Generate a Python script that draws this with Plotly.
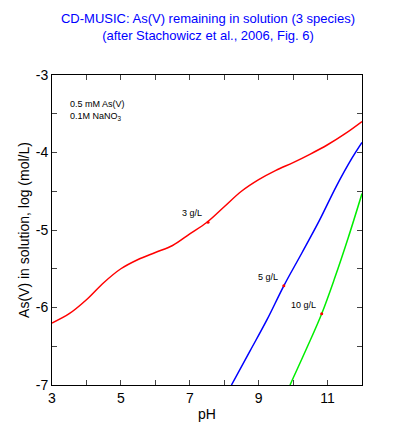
import plotly.graph_objects as go

red_ph = [3.0, 3.5, 4.0, 4.5, 5.0, 5.5, 6.0, 6.5, 7.0, 7.5, 8.0, 8.5, 9.0, 9.5, 10.0, 10.5, 11.0, 11.5, 12.0]
red_y = [-6.20, -6.08, -5.90, -5.68, -5.50, -5.38, -5.29, -5.20, -5.05, -4.90, -4.70, -4.50, -4.35, -4.23, -4.13, -4.02, -3.90, -3.76, -3.60]
blue_ph = [8.21, 8.75, 9.25, 9.73, 10.25, 10.76, 11.25, 11.7, 12.0]
blue_y = [-7.00, -6.56, -6.15, -5.72, -5.30, -4.88, -4.44, -4.08, -3.87]
green_ph = [9.91, 10.4, 10.83, 11.2, 11.6, 12.0]
green_y = [-7.00, -6.52, -6.08, -5.63, -5.10, -4.53]
mark_ph = [7.53, 9.73, 10.83]
mark_y = [-4.90, -5.72, -6.08]
mark_labels = ["3 g/L", "5 g/L", "10 g/L"]

fig = go.Figure()
fig.add_trace(go.Scatter(x=red_ph, y=red_y, mode="lines", line=dict(color="#ff0000", width=1.5, shape="spline")))
fig.add_trace(go.Scatter(x=blue_ph, y=blue_y, mode="lines", line=dict(color="#0000ff", width=1.5, shape="spline")))
fig.add_trace(go.Scatter(x=green_ph, y=green_y, mode="lines", line=dict(color="#00ee00", width=1.5, shape="spline")))
fig.add_trace(go.Scatter(x=mark_ph, y=mark_y, mode="markers", marker=dict(color="#ff0000", size=3)))
for x, y, t in zip(mark_ph, mark_y, mark_labels):
    fig.add_annotation(x=x, y=y, text=t, showarrow=False, xanchor="right", yanchor="bottom",
                       xshift=-4, yshift=2, font=dict(size=9, color="black"))
fig.add_annotation(xref="paper", yref="paper", x=0.05, y=0.93, xanchor="left", yanchor="top", align="left",
                   showarrow=False, text="0.5 mM As(V)<br>0.1M NaNO<sub>3</sub>", font=dict(size=9, color="black"))

ax = dict(showgrid=False, zeroline=False, mirror="ticks", ticks="inside", ticklen=5, showline=True,
          linecolor="black", linewidth=1, tickfont=dict(size=14, color="black"))
fig.update_layout(
    width=400, height=435, showlegend=False, plot_bgcolor="white", paper_bgcolor="white",
    margin=dict(l=44, r=46, t=67, b=58),
    font=dict(family="Liberation Sans, Arial, sans-serif"),
    title=dict(text="CD-MUSIC: As(V) remaining in solution (3 species)<br>(after Stachowicz et al., 2006, Fig. 6)",
               x=0.5, xanchor="center", y=0.965, yanchor="top", font=dict(size=13, color="#0000ff")),
    xaxis=dict(range=[3, 12], tickvals=[3, 4, 5, 6, 7, 8, 9, 10, 11, 12],
               ticktext=["3", "", "5", "", "7", "", "9", "", "11", ""],
               title=dict(text="pH", font=dict(size=14, color="black"), standoff=4), **ax),
    yaxis=dict(range=[-7, -3], tickvals=[-7, -6.5, -6, -5.5, -5, -4.5, -4, -3.5, -3],
               ticktext=["-7", "", "-6", "", "-5", "", "-4", "", "-3"],
               title=dict(text="As(V) in solution, log (mol/L)", font=dict(size=14, color="black"), standoff=2), **ax),
)
fig.write_html("out.html")
